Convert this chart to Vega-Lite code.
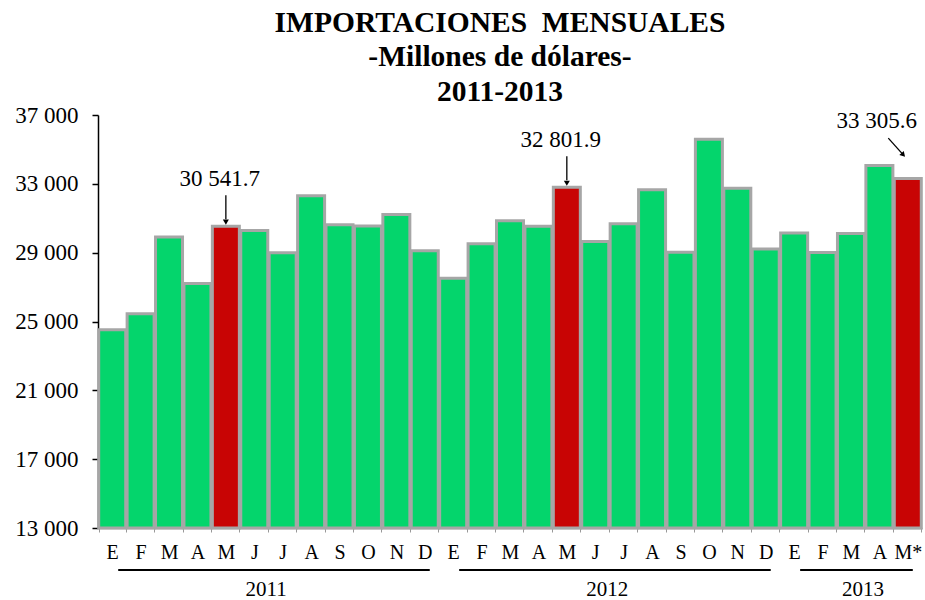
{
  "$schema": "https://vega.github.io/schema/vega-lite/v6.json",
  "width": 824,
  "height": 413,
  "autosize": {"type": "none"},
  "padding": {"left": 98, "top": 115, "right": 3, "bottom": 72},
  "background": "white",
  "config": {
    "view": {"stroke": null},
    "font": "Liberation Serif, Times New Roman, Times, serif",
    "axis": {"labelFont": "Liberation Serif, Times New Roman, Times, serif"},
    "text": {"font": "Liberation Serif, Times New Roman, Times, serif"}
  },
  "title": {
    "text": ["IMPORTACIONES\u00a0 MENSUALES", "-Millones de dólares-", "2011-2013"],
    "font": "Liberation Serif, Times New Roman, Times, serif",
    "fontSize": 29.5,
    "fontWeight": "bold",
    "lineHeight": 34.5,
    "anchor": "middle",
    "frame": "group",
    "color": "black",
    "offset": -3,
    "dx": -10
  },
  "datasets": {
    "meses": [
      {"key": "2011-01 E", "valor": 24520, "tipo": "normal"},
      {"key": "2011-02 F", "valor": 25450, "tipo": "normal"},
      {"key": "2011-03 M", "valor": 29910, "tipo": "normal"},
      {"key": "2011-04 A", "valor": 27210, "tipo": "normal"},
      {"key": "2011-05 M", "valor": 30541.7, "tipo": "destacado", "etiqueta": "30 541.7"},
      {"key": "2011-06 J", "valor": 30290, "tipo": "normal"},
      {"key": "2011-07 J", "valor": 28990, "tipo": "normal"},
      {"key": "2011-08 A", "valor": 32310, "tipo": "normal"},
      {"key": "2011-09 S", "valor": 30620, "tipo": "normal"},
      {"key": "2011-10 O", "valor": 30550, "tipo": "normal"},
      {"key": "2011-11 N", "valor": 31220, "tipo": "normal"},
      {"key": "2011-12 D", "valor": 29110, "tipo": "normal"},
      {"key": "2012-01 E", "valor": 27520, "tipo": "normal"},
      {"key": "2012-02 F", "valor": 29520, "tipo": "normal"},
      {"key": "2012-03 M", "valor": 30860, "tipo": "normal"},
      {"key": "2012-04 A", "valor": 30530, "tipo": "normal"},
      {"key": "2012-05 M", "valor": 32801.9, "tipo": "destacado", "etiqueta": "32 801.9"},
      {"key": "2012-06 J", "valor": 29650, "tipo": "normal"},
      {"key": "2012-07 J", "valor": 30680, "tipo": "normal"},
      {"key": "2012-08 A", "valor": 32660, "tipo": "normal"},
      {"key": "2012-09 S", "valor": 29030, "tipo": "normal"},
      {"key": "2012-10 O", "valor": 35590, "tipo": "normal"},
      {"key": "2012-11 N", "valor": 32740, "tipo": "normal"},
      {"key": "2012-12 D", "valor": 29210, "tipo": "normal"},
      {"key": "2013-01 E", "valor": 30140, "tipo": "normal"},
      {"key": "2013-02 F", "valor": 29010, "tipo": "normal"},
      {"key": "2013-03 M", "valor": 30120, "tipo": "normal"},
      {"key": "2013-04 A", "valor": 34070, "tipo": "normal"},
      {"key": "2013-05 M*", "valor": 33305.6, "tipo": "destacado", "etiqueta": "33 305.6"}
    ],
    "anios": [
      {"anio": "2011", "desde": "2011-01 E", "hasta": "2011-12 D", "centro": "2011-07 J"},
      {"anio": "2012", "desde": "2012-01 E", "hasta": "2012-12 D", "centro": "2012-07 J"},
      {"anio": "2013", "desde": "2013-01 E", "hasta": "2013-05 M*", "centro": "2013-04 A"}
    ]
  },
  "layer": [
    {
      "data": {"name": "meses"},
      "mark": {"type": "bar", "stroke": "#a6a6a6", "strokeWidth": 3},
      "encoding": {
        "x": {
          "field": "key",
          "type": "ordinal",
          "sort": "ascending",
          "scale": {"paddingInner": 0.05},
          "axis": {
            "title": null,
            "labelExpr": "split(datum.value, ' ')[1]",
            "labelAngle": 0,
            "labelFont": "Liberation Serif, Times New Roman, Times, serif",
            "labelFontSize": 20,
            "labelColor": "black",
            "labelPadding": 10,
            "tickBand": "extent",
            "tickSize": 4,
            "tickColor": "#999999",
            "domainColor": "#999999",
            "domainWidth": 1.5
          }
        },
        "y": {
          "field": "valor",
          "type": "quantitative",
          "scale": {"domain": [13000, 37000], "nice": false, "zero": false},
          "axis": {
            "title": null,
            "values": [13000, 17000, 21000, 25000, 29000, 33000, 37000],
            "labelExpr": "replace(format(datum.value, ','), ',', ' ')",
            "labelFont": "Liberation Serif, Times New Roman, Times, serif",
            "labelFontSize": 23,
            "labelColor": "black",
            "labelPadding": 14,
            "tickSize": 6,
            "tickColor": "black",
            "tickWidth": 1.5,
            "domainColor": "black",
            "domainWidth": 1.5,
            "grid": false
          }
        },
        "y2": {"datum": 13000},
        "color": {
          "field": "tipo",
          "type": "nominal",
          "scale": {"domain": ["normal", "destacado"], "range": ["#04D56C", "#C80404"]},
          "legend": null
        }
      }
    },
    {
      "data": {"name": "meses"},
      "transform": [{"filter": "datum.etiqueta && datum.key != '2013-05 M*'"}],
      "mark": {"type": "text", "fontSize": 23, "font": "Liberation Serif, Times New Roman, Times, serif", "color": "black", "align": "center", "baseline": "alphabetic", "dx": -6, "dy": -40},
      "encoding": {
        "x": {"field": "key", "type": "ordinal"},
        "y": {"field": "valor", "type": "quantitative"},
        "text": {"field": "etiqueta"}
      }
    },
    {
      "data": {"name": "meses"},
      "transform": [{"filter": "datum.etiqueta && datum.key != '2013-05 M*'"}],
      "mark": {"type": "rule", "color": "black", "strokeWidth": 1.3, "yOffset": -31, "y2Offset": -7},
      "encoding": {
        "x": {"field": "key", "type": "ordinal"},
        "y": {"field": "valor", "type": "quantitative"},
        "y2": {"field": "valor"}
      }
    },
    {
      "data": {"name": "meses"},
      "transform": [{"filter": "datum.etiqueta && datum.key != '2013-05 M*'"}],
      "mark": {"type": "point", "shape": "triangle-down", "filled": true, "color": "black", "opacity": 1, "size": 36, "yOffset": -4},
      "encoding": {
        "x": {"field": "key", "type": "ordinal"},
        "y": {"field": "valor", "type": "quantitative"}
      }
    },
    {
      "data": {"name": "meses"},
      "transform": [{"filter": "datum.key == '2013-05 M*'"}],
      "mark": {"type": "text", "fontSize": 23, "font": "Liberation Serif, Times New Roman, Times, serif", "color": "black", "align": "center", "baseline": "alphabetic", "dx": -31, "dy": -51},
      "encoding": {
        "x": {"field": "key", "type": "ordinal"},
        "y": {"field": "valor", "type": "quantitative"},
        "text": {"field": "etiqueta"}
      }
    },
    {
      "data": {"name": "meses"},
      "transform": [{"filter": "datum.key == '2013-05 M*'"}],
      "mark": {"type": "rule", "color": "black", "strokeWidth": 1.3, "xOffset": -19.5, "yOffset": -40.5, "x2Offset": -4.5, "y2Offset": -23.7},
      "encoding": {
        "x": {"field": "key", "type": "ordinal"},
        "x2": {"field": "key"},
        "y": {"field": "valor", "type": "quantitative"},
        "y2": {"field": "valor"}
      }
    },
    {
      "data": {"name": "meses"},
      "transform": [{"filter": "datum.key == '2013-05 M*'"}],
      "mark": {"type": "point", "shape": "triangle-down", "filled": true, "color": "black", "opacity": 1, "size": 36, "angle": 318, "xOffset": -4.5, "yOffset": -23.7},
      "encoding": {
        "x": {"field": "key", "type": "ordinal"},
        "y": {"field": "valor", "type": "quantitative"}
      }
    },
    {
      "data": {"name": "anios"},
      "mark": {"type": "rule", "color": "black", "strokeWidth": 2, "xOffset": 6, "x2Offset": 5},
      "encoding": {
        "x": {"field": "desde", "type": "ordinal"},
        "x2": {"field": "hasta"},
        "y": {"datum": 10559, "type": "quantitative"}
      }
    },
    {
      "data": {"name": "anios"},
      "mark": {"type": "text", "fontSize": 21, "font": "Liberation Serif, Times New Roman, Times, serif", "color": "black", "align": "center", "baseline": "alphabetic", "dx": -3},
      "encoding": {
        "x": {"field": "centro", "type": "ordinal", "bandPosition": 0},
        "y": {"datum": 9048, "type": "quantitative"},
        "text": {"field": "anio"}
      }
    }
  ]
}
